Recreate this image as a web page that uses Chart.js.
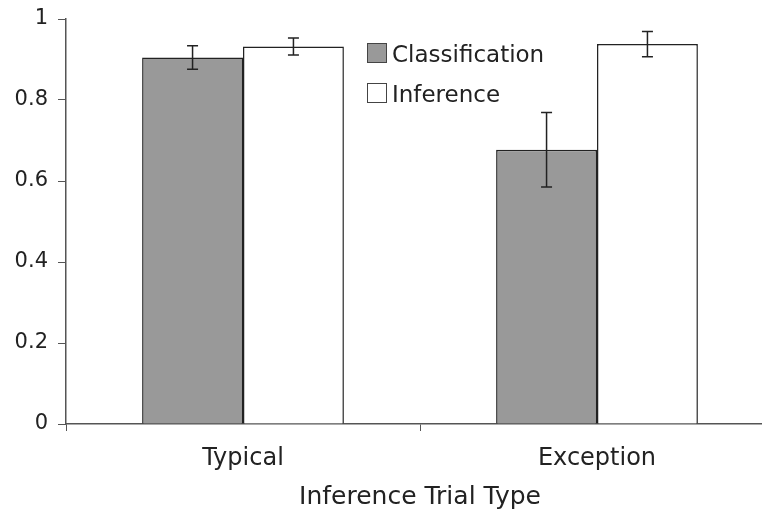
<!DOCTYPE html>
<html>
<head>
<meta charset="utf-8">
<script src="https://cdn.jsdelivr.net/npm/chart.js@4.4.1/dist/chart.umd.min.js"></script>
<style>
html,body{margin:0;padding:0;background:#fff;}
#wrap{width:762px;height:513px;}
</style>
</head>
<body>
<div id="wrap"><canvas id="c" width="762" height="513"></canvas></div>
<script>
const categories = ["Typical", "Exception"];
const seriesNames = ["Classification", "Inference"];
const classificationValues = [0.905, 0.677];
const inferenceValues = [0.932, 0.938];
const classificationErrors = [0.029, 0.092];
const inferenceErrors = [0.021, 0.031];
const yTicks = [0, 0.2, 0.4, 0.6, 0.8, 1];

const FONT = "'DejaVu Sans', Verdana, sans-serif";
const INK = "#222222";

// The original plot area runs past the right edge of the picture.
const plotAreaPlugin = {
  id: 'plotArea',
  afterLayout(chart) {
    const x = chart.scales.x;
    const y = chart.scales.y;
    const newRight = 774;
    const newTop = 19;
    x.right = newRight;
    x.width = newRight - x.left;
    x.configure();
    y.top = newTop;
    y.height = y.bottom - newTop;
    y.configure();
    chart.chartArea.right = newRight;
    chart.chartArea.width = newRight - chart.chartArea.left;
    chart.chartArea.top = newTop;
    chart.chartArea.height = chart.chartArea.bottom - newTop;
  }
};

const errorBarPlugin = {
  id: 'errorBars',
  afterDatasetsDraw(chart) {
    const ctx = chart.ctx;
    const yScale = chart.scales.y;
    const errs = [classificationErrors, inferenceErrors];
    chart.data.datasets.forEach((ds, di) => {
      const meta = chart.getDatasetMeta(di);
      meta.data.forEach((bar, i) => {
        const v = ds.data[i];
        const e = errs[di][i];
        const x = bar.x;
        const yTop = yScale.getPixelForValue(v + e);
        const yBot = yScale.getPixelForValue(v - e);
        ctx.save();
        ctx.strokeStyle = INK;
        ctx.lineWidth = 1.5;
        ctx.beginPath();
        ctx.moveTo(x, yTop); ctx.lineTo(x, yBot);
        ctx.moveTo(x - 5.5, yTop); ctx.lineTo(x + 5.5, yTop);
        ctx.moveTo(x - 5.5, yBot); ctx.lineTo(x + 5.5, yBot);
        ctx.stroke();
        ctx.restore();
      });
    });
  }
};

const legendPlugin = {
  id: 'customLegend',
  afterDraw(chart) {
    const ctx = chart.ctx;
    const items = chart.data.datasets;
    ctx.save();
    items.forEach((ds, i) => {
      const bx = 367, by = 43 + i * 40;
      ctx.fillStyle = ds.backgroundColor;
      ctx.fillRect(bx, by, 19, 19);
      ctx.strokeStyle = "#444";
      ctx.lineWidth = 1;
      ctx.strokeRect(bx + 0.5, by + 0.5, 19, 19);
      ctx.fillStyle = INK;
      ctx.font = "23px " + FONT;
      ctx.textBaseline = "alphabetic";
      ctx.textAlign = "left";
      ctx.fillText(ds.label, 392, by + 19);
    });
    ctx.restore();
  }
};

new Chart(document.getElementById('c'), {
  type: 'bar',
  data: {
    labels: categories,
    datasets: [
      { label: seriesNames[0], data: classificationValues, backgroundColor: "#999999", borderColor: INK, borderWidth: 1.5 },
      { label: seriesNames[1], data: inferenceValues, backgroundColor: "#ffffff", borderColor: INK, borderWidth: 1.5 }
    ]
  },
  options: {
    responsive: false,
    animation: false,
    devicePixelRatio: 1,
    layout: { padding: { top: 5, right: 0, left: 0, bottom: 0 } },
    datasets: { bar: { categoryPercentage: 0.57, barPercentage: 1.0 } },
    plugins: { legend: { display: false }, tooltip: { enabled: false } },
    scales: {
      x: {
        type: 'category',
        grid: { offset: true, drawOnChartArea: false, drawTicks: true, tickLength: 7, color: "#555", lineWidth: 1 },
        border: { color: "#555", width: 1.5 },
        ticks: { color: INK, font: { family: FONT, size: 24 }, padding: 13 },
        title: { display: true, text: "Inference Trial Type", color: INK, font: { family: FONT, size: 25 }, padding: { top: 4, bottom: 1 } },
        afterFit(scale) { scale.height = 89; }
      },
      y: {
        min: 0, max: 1,
        afterBuildTicks(scale) { scale.ticks = yTicks.map(v => ({ value: v })); },
        grid: { drawOnChartArea: false, drawTicks: true, tickLength: 8, color: "#555", lineWidth: 1 },
        border: { color: "#555", width: 1.5 },
        ticks: { color: INK, font: { family: FONT, size: 21 }, padding: 10, callback: v => String(v) },
        afterFit(scale) { scale.width = 66; }
      }
    }
  },
  plugins: [plotAreaPlugin, errorBarPlugin, legendPlugin]
});
</script>
</body>
</html>
